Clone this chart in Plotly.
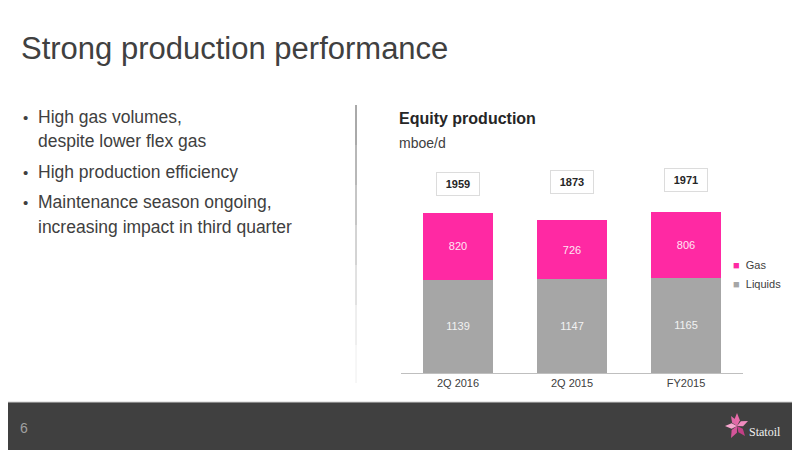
import plotly.graph_objects as go

# Equity production, mboe/d
periods = ["2Q 2016", "2Q 2015", "FY2015"]
liquids = [1139, 1147, 1165]
gas = [820, 726, 806]
totals = [1959, 1873, 1971]

series_names = ["Gas", "Liquids"]
series_colors = ["#ff29a3", "#a6a6a6"]

bullets = [
    ["High gas volumes,", "despite lower flex gas"],
    ["High production efficiency"],
    ["Maintenance season ongoing,", "increasing impact in third quarter"],
]

# the page body adds an 8px margin, so the figure is drawn 8px in
W, H = 784, 442
OFF = 8
FONT = "Liberation Sans, Arial, sans-serif"
DARK = "#404040"


def px_x(x):
    return (x - OFF) / W


def px_y(y):
    return 1 - (y - OFF) / H


fig = go.Figure()

fig.add_trace(go.Bar(
    x=periods, y=liquids, name="Liquids",
    marker=dict(color=series_colors[1], line=dict(width=0)),
    text=liquids, textposition="inside", insidetextanchor="middle",
    textfont=dict(color="#f2f2f2", size=11, family=FONT),
    width=0.61, showlegend=False,
))
fig.add_trace(go.Bar(
    x=periods, y=gas, name="Gas",
    marker=dict(color=series_colors[0], line=dict(width=0)),
    text=gas, textposition="inside", insidetextanchor="middle",
    textfont=dict(color="#ffe6f3", size=11, family=FONT),
    width=0.61, showlegend=False,
))

annotations = []

# total boxes above the bars
box_y = [2310, 2335, 2360]
for i, (p, t) in enumerate(zip(periods, totals)):
    annotations.append(dict(
        x=p, y=box_y[i], xref="x", yref="y", text=f"<b>{t}</b>",
        showarrow=False, font=dict(size=11, color="#262626", family=FONT),
        bgcolor="white", bordercolor="#dcdcdc", borderwidth=1,
        borderpad=5, width=32,
    ))

# legend drawn as text
for name, col, yy in zip(series_names, series_colors, [265, 284]):
    annotations.append(dict(
        x=px_x(731), y=px_y(yy), xref="paper", yref="paper",
        text=f"<span style='color:{col}'>■</span>&nbsp;&nbsp;{name}",
        showarrow=False, xanchor="left", yanchor="middle",
        font=dict(size=11, color=DARK, family=FONT),
    ))

# slide title
annotations.append(dict(
    x=px_x(19), y=px_y(48), xref="paper", yref="paper",
    text="Strong production performance", showarrow=False,
    xanchor="left", yanchor="middle",
    font=dict(size=31, color=DARK, family=FONT),
))

# bullet text
line_y = [[117, 141], [172], [202, 227]]
for lines, ys in zip(bullets, line_y):
    annotations.append(dict(
        x=px_x(21), y=px_y(ys[0]), xref="paper", yref="paper",
        text="•", showarrow=False, xanchor="left", yanchor="middle",
        font=dict(size=15, color=DARK, family=FONT),
    ))
    for txt, yy in zip(lines, ys):
        annotations.append(dict(
            x=px_x(36), y=px_y(yy), xref="paper", yref="paper",
            text=txt, showarrow=False, xanchor="left", yanchor="middle",
            font=dict(size=17.5, color=DARK, family=FONT),
        ))

# chart title and unit
annotations.append(dict(
    x=px_x(397), y=px_y(118), xref="paper", yref="paper",
    text="<b>Equity production</b>", showarrow=False,
    xanchor="left", yanchor="middle",
    font=dict(size=16, color="#262626", family=FONT),
))
annotations.append(dict(
    x=px_x(397), y=px_y(143), xref="paper", yref="paper",
    text="mboe/d", showarrow=False,
    xanchor="left", yanchor="middle",
    font=dict(size=14, color=DARK, family=FONT),
))

# footer page number and logo text
annotations.append(dict(
    x=px_x(18), y=px_y(428), xref="paper", yref="paper",
    text="6", showarrow=False, xanchor="left", yanchor="middle",
    font=dict(size=14, color="#a0a0a0", family=FONT),
))
annotations.append(dict(
    x=px_x(747), y=px_y(432), xref="paper", yref="paper",
    text="Statoil", showarrow=False, xanchor="left", yanchor="middle",
    font=dict(size=12, color="#f0f0f0", family="Liberation Serif, serif"),
))

shapes = [
    # footer band
    dict(type="rect", xref="paper", yref="paper", x0=-0.02, x1=1.02,
         y0=-0.05, y1=px_y(402), fillcolor="#404040", line=dict(width=0),
         layer="below"),
    dict(type="line", xref="paper", yref="paper", x0=-0.02, x1=1.02,
         y0=px_y(402), y1=px_y(402), line=dict(color="#d0d0d0", width=1)),
]

# divider line that fades downwards
seg_top = 105
for k, col in enumerate(["#555555", "#707070", "#8c8c8c", "#a8a8a8",
                          "#c4c4c4", "#dedede", "#eeeeee"]):
    y0 = seg_top + k * 40
    shapes.append(dict(type="line", xref="paper", yref="paper",
                       x0=px_x(356), x1=px_x(356),
                       y0=px_y(y0), y1=px_y(min(y0 + 40, 383)),
                       line=dict(color=col, width=1)))

# Statoil star logo (petals)
cx, cy = 737, 426
petals = [
    (0, -13, "#e86aa8"), (11, -5, "#f08cc0"), (8, 10, "#c23f86"),
    (-6, 12, "#d4559a"), (-12, 0, "#f7a6cf"), (-6, -10, "#e06aa8"),
]
for dx, dy, col in petals:
    mx, my = cx + dx * 0.45, cy + dy * 0.45
    nx, ny = -dy * 0.22, dx * 0.22
    path = (f"M {px_x(cx)} {px_y(cy)} L {px_x(mx + nx)} {px_y(my + ny)} "
            f"L {px_x(cx + dx)} {px_y(cy + dy)} L {px_x(mx - nx)} {px_y(my - ny)} Z")
    shapes.append(dict(type="path", xref="paper", yref="paper", path=path,
                       fillcolor=col, line=dict(width=0)))

fig.update_layout(
    width=W, height=H,
    margin=dict(l=0, r=0, t=0, b=0),
    paper_bgcolor="white", plot_bgcolor="white",
    barmode="stack",
    showlegend=False,
    xaxis=dict(
        domain=[px_x(401), px_x(743)],
        showline=True, linecolor="#bfbfbf", linewidth=1,
        ticks="", showgrid=False,
        tickfont=dict(size=11, color=DARK, family=FONT),
    ),
    yaxis=dict(
        domain=[px_y(373), px_y(160)],
        range=[0, 2607], visible=False, showgrid=False,
    ),
    uniformtext=dict(minsize=8, mode="show"),
    annotations=annotations,
    shapes=shapes,
    font=dict(family=FONT),
)

fig.write_html("out.html")
